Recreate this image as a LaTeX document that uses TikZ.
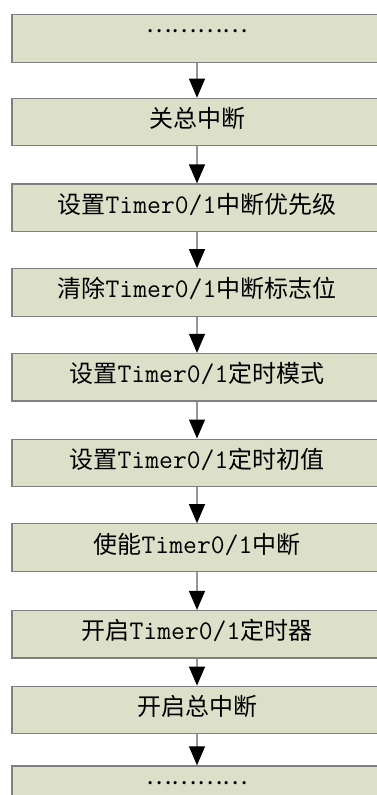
\documentclass[tikz,border=0pt]{standalone}
\usepackage{fontspec}
\setmainfont{Noto Sans CJK SC}
\newfontfamily\tmrfont{Latin Modern Mono}[Scale=1.12]
\usepackage{tikz}
\usetikzlibrary{positioning,arrows.meta}
\definecolor{BoxFill}{RGB}{221,224,201}
\definecolor{BoxLine}{RGB}{128,128,128}
\definecolor{LinkGray}{RGB}{150,150,150}
\newcommand{\tmr}{{\tmrfont Timer0/1}}

\begin{document}
\begin{tikzpicture}[
  font=\fontsize{24pt}{28pt}\selectfont,
  box/.style={draw=BoxLine, line width=1.2pt, fill=BoxFill, minimum width=370pt, minimum height=47.5pt, inner sep=0pt, text height=18pt, text depth=7pt},
  dotbox/.style={box, text depth=29pt},
  arrow/.style={-{Triangle[length=19pt, width=16pt, color=black]}, LinkGray, line width=1.2pt}
]
  \useasboundingbox (0,0) rectangle (376pt,-795pt);
  % Flow of Timer0/1 interrupt setup, top to bottom.
  \node[dotbox, anchor=north] (head) at (197pt,-14pt) {…………};
  \node[box, below=35pt of head] (alloff) {关总中断};
  \node[box, below=37pt of alloff] (prio) {设置\tmr 中断优先级};
  \node[box, below=36pt of prio] (clear) {清除\tmr 中断标志位};
  \node[box, below=36pt of clear] (mode) {设置\tmr 定时模式};
  \node[box, below=37pt of mode] (init) {设置\tmr 定时初值};
  \node[box, below=36pt of init] (enable) {使能\tmr 中断};
  \node[box, below=38pt of enable] (start) {开启\tmr 定时器};
  \node[box, below=27pt of start] (allon) {开启总中断};
  \node[dotbox, below=31pt of allon] (tail) {…………};

  \draw[arrow] (head) -- (alloff);
  \draw[arrow] (alloff) -- (prio);
  \draw[arrow] (prio) -- (clear);
  \draw[arrow] (clear) -- (mode);
  \draw[arrow] (mode) -- (init);
  \draw[arrow] (init) -- (enable);
  \draw[arrow] (enable) -- (start);
  \draw[arrow] (start) -- (allon);
  \draw[arrow] (allon) -- (tail);
\end{tikzpicture}
\end{document}
